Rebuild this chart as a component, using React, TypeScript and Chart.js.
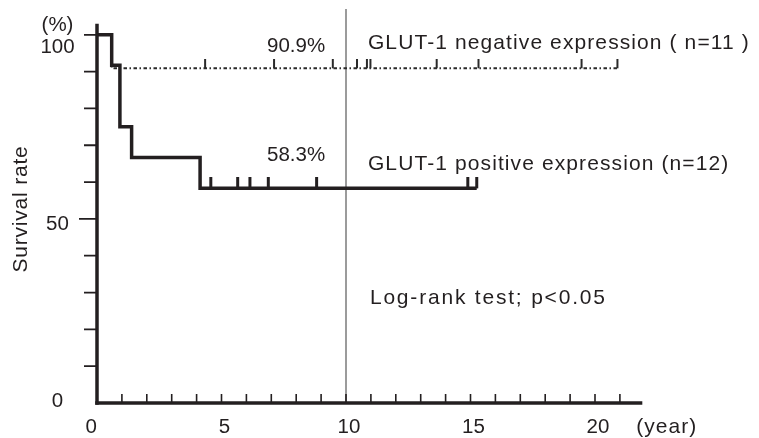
import React, { useEffect, useRef } from "react";
import { Chart, registerables } from "chart.js";

Chart.register(...registerables);

// ---- data (years, survival %) ----
const positiveTimes = [0, 0.59, 0.92, 1.39, 4.14, 15.25];
const positiveSurvival = [100, 91.7, 75.0, 66.7, 58.3, 58.3];
const positiveCensorTimes = [4.57, 5.65, 6.14, 6.88, 8.82, 14.89, 15.25];
const positiveCensorLevel = 58.3;

const negativeTimes = [0, 0.59, 20.9];
const negativeSurvival = [100, 90.9, 90.9];
const negativeCensorTimes = [4.34, 7.11, 9.47, 10.44, 10.84, 10.98, 13.64, 15.32, 19.46, 20.9];
const negativeCensorLevel = 90.9;

const referenceYear = 10;

const xTickLabels = [0, 5, 10, 15, 20];
const xMinorTicks = [1, 2, 3, 4, 5, 6, 7, 8, 9, 10, 11, 12, 13, 14, 15, 16, 17, 18, 19, 20, 21];
const yTickLabels = [0, 50, 100];
const yMinorTicks = [10, 20, 30, 40, 50, 60, 70, 80, 90, 100];

const X_MAX = 22;
const Y_MAX = 107;
const Y_AXIS_TOP = 103;
const X_AXIS_END = 21.9;

const INK = "#231f20";
const FONT = '"Liberation Sans", Arial, Helvetica, sans-serif';

function makeTickImage(lineW: number, h: number, color: string) {
  const c = document.createElement("canvas");
  c.width = Math.ceil(lineW) + 2;
  c.height = h * 2;
  const g = c.getContext("2d")!;
  g.fillStyle = color;
  g.fillRect((c.width - lineW) / 2, 0, lineW, h);
  return c;
}

function drawText(
  ctx: CanvasRenderingContext2D,
  s: string,
  x: number,
  y: number,
  align: CanvasTextAlign,
  size: number,
  spacing = 0,
  rotate = 0
) {
  ctx.save();
  ctx.translate(x, y);
  if (rotate) ctx.rotate(rotate);
  ctx.font = `${size}px ${FONT}`;
  (ctx as any).letterSpacing = `${spacing}px`;
  ctx.textAlign = align;
  ctx.textBaseline = "alphabetic";
  ctx.fillStyle = INK;
  ctx.fillText(s, 0, 0);
  ctx.restore();
}

const decorPlugin = {
  id: "decor",
  afterDraw(chart: any) {
    const { ctx, scales } = chart;
    const xs = scales.x;
    const ys = scales.y;
    const x0 = xs.getPixelForValue(0);
    const y0 = ys.getPixelForValue(0);
    ctx.save();
    ctx.strokeStyle = INK;
    ctx.lineCap = "butt";
    // axis lines
    ctx.lineWidth = 3.5;
    ctx.beginPath();
    ctx.moveTo(x0, ys.getPixelForValue(Y_AXIS_TOP));
    ctx.lineTo(x0, y0 + 1.75);
    ctx.stroke();
    ctx.beginPath();
    ctx.moveTo(x0 - 1.75, y0);
    ctx.lineTo(xs.getPixelForValue(X_AXIS_END), y0);
    ctx.stroke();
    // y ticks (outward)
    ctx.lineWidth = 1.8;
    ctx.beginPath();
    for (const v of yMinorTicks) {
      const py = ys.getPixelForValue(v);
      const len = v === 50 ? 18 : 13;
      ctx.moveTo(x0 - len, py);
      ctx.lineTo(x0, py);
    }
    ctx.stroke();
    // x ticks (inward)
    ctx.lineWidth = 1.6;
    ctx.beginPath();
    for (const v of xMinorTicks) {
      const px = xs.getPixelForValue(v);
      ctx.moveTo(px, y0);
      ctx.lineTo(px, y0 - 9);
    }
    ctx.stroke();
    ctx.restore();

    // tick labels
    for (const v of xTickLabels) {
      const px = xs.getPixelForValue(v);
      if (v === 0) drawText(ctx, String(v), px, y0 + 30, "right", 20.5);
      else drawText(ctx, String(v), px + 3, y0 + 30, "center", 20.5);
    }
    const yOff: Record<number, number> = { 0: 4, 50: 11, 100: 18 };
    for (const v of yTickLabels) {
      const py = ys.getPixelForValue(v);
      drawText(ctx, String(v), 57.5, py + yOff[v], "center", 20.5);
    }
    drawText(ctx, "(%)", 57.5, 31, "center", 20.5);
    drawText(ctx, "(year)", xs.getPixelForValue(X_AXIS_END) - 6, y0 + 30, "left", 21, 1);
    drawText(ctx, "Survival rate", 27, 209, "center", 21, 0.8, -Math.PI / 2);

    // annotations
    drawText(ctx, "90.9%", xs.getPixelForValue(6.83), ys.getPixelForValue(95.2), "left", 20.5);
    drawText(ctx, "GLUT-1 negative expression ( n=11 )", xs.getPixelForValue(10.88), ys.getPixelForValue(96.1), "left", 21, 1.1);
    drawText(ctx, "58.3%", xs.getPixelForValue(6.83), ys.getPixelForValue(65.6), "left", 20.5);
    drawText(ctx, "GLUT-1 positive expression (n=12)", xs.getPixelForValue(10.88), ys.getPixelForValue(63.3), "left", 21, 1.1);
    drawText(ctx, "Log-rank test; p<0.05", xs.getPixelForValue(10.96), ys.getPixelForValue(26.9), "left", 21, 1.8);
  },
};

export default function App() {
  const ref = useRef<HTMLCanvasElement | null>(null);
  useEffect(() => {
    document.body.style.margin = "0";
    const canvas = ref.current!;
    const solidTick = makeTickImage(3, 11, INK);
    const dotTick = makeTickImage(2, 9, "#2a2a2a");
    const chart = new Chart(canvas, {
      type: "scatter",
      data: {
        datasets: [
          {
            label: "positive censored",
            data: positiveCensorTimes.map((t) => ({ x: t, y: positiveCensorLevel })),
            pointStyle: solidTick as any,
            pointRadius: 3,
            showLine: false,
            order: 1,
          },
          {
            label: "GLUT-1 positive",
            data: positiveTimes.map((t, i) => ({ x: t, y: positiveSurvival[i] })),
            showLine: true,
            stepped: "before",
            borderColor: INK,
            borderWidth: 3.5,
            pointRadius: 0,
            order: 2,
          },
          {
            label: "negative censored",
            data: negativeCensorTimes.map((t) => ({ x: t, y: negativeCensorLevel })),
            pointStyle: dotTick as any,
            pointRadius: 3,
            showLine: false,
            order: 3,
          },
          {
            label: "GLUT-1 negative",
            data: negativeTimes.map((t, i) => ({ x: t, y: negativeSurvival[i] })),
            showLine: true,
            stepped: "before",
            borderColor: "#2a2a2a",
            borderWidth: 2,
            borderDash: [3.5, 2.5, 1.5, 2.5],
            pointRadius: 0,
            order: 4,
          },
          {
            label: "10 years",
            data: [
              { x: referenceYear, y: 0 },
              { x: referenceYear, y: Y_MAX },
            ],
            showLine: true,
            borderColor: "#7a7a7a",
            borderWidth: 1.5,
            pointRadius: 0,
            order: 5,
          },
        ],
      },
      options: {
        responsive: false,
        animation: false,
        events: [],
        layout: { padding: { left: 97, right: 759 - 97 - X_MAX * 24.9, top: 9, bottom: 35 } },
        plugins: { legend: { display: false }, tooltip: { enabled: false } },
        scales: {
          x: { type: "linear", min: 0, max: X_MAX, display: false },
          y: { type: "linear", min: 0, max: Y_MAX, display: false },
        },
      },
      plugins: [decorPlugin],
    });
    return () => chart.destroy();
  }, []);
  return (
    <div style={{ width: 759, height: 438, background: "#fff" }}>
      <canvas ref={ref} width={759} height={438} />
    </div>
  );
}
